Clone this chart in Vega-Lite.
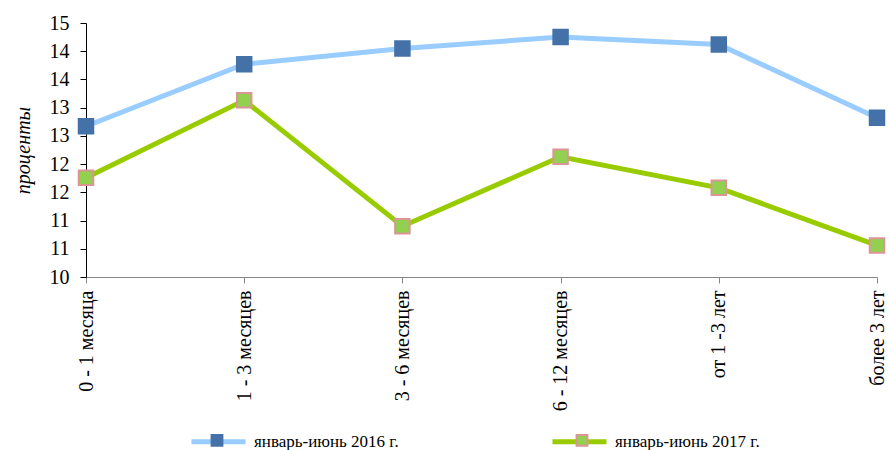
{
  "$schema": "https://vega.github.io/schema/vega-lite/v6.json",
  "width": 791,
  "height": 254,
  "autosize": {"type": "none"},
  "padding": {"left": 86, "top": 23, "right": 12, "bottom": 173},
  "background": "white",
  "config": {
    "view": {"stroke": null},
    "font": "Liberation Serif",
    "axis": {"grid": false}
  },
  "data": {
    "values": [
      {"cat": "0 - 1 месяца", "series": "январь-июнь 2016 г.", "value": 12.67},
      {"cat": "1 - 3 месяцев", "series": "январь-июнь 2016 г.", "value": 13.77},
      {"cat": "3 - 6 месяцев", "series": "январь-июнь 2016 г.", "value": 14.05},
      {"cat": "6 - 12 месяцев", "series": "январь-июнь 2016 г.", "value": 14.25},
      {"cat": "от 1 -3 лет", "series": "январь-июнь 2016 г.", "value": 14.12},
      {"cat": "более 3 лет", "series": "январь-июнь 2016 г.", "value": 12.82},
      {"cat": "0 - 1 месяца", "series": "январь-июнь 2017 г.", "value": 11.76},
      {"cat": "1 - 3 месяцев", "series": "январь-июнь 2017 г.", "value": 13.13},
      {"cat": "3 - 6 месяцев", "series": "январь-июнь 2017 г.", "value": 10.9},
      {"cat": "6 - 12 месяцев", "series": "январь-июнь 2017 г.", "value": 12.13},
      {"cat": "от 1 -3 лет", "series": "январь-июнь 2017 г.", "value": 11.58},
      {"cat": "более 3 лет", "series": "январь-июнь 2017 г.", "value": 10.56}
    ]
  },
  "encoding": {
    "x": {
      "field": "cat",
      "type": "ordinal",
      "sort": ["0 - 1 месяца", "1 - 3 месяцев", "3 - 6 месяцев", "6 - 12 месяцев", "от 1 -3 лет", "более 3 лет"],
      "scale": {"type": "point", "padding": 0},
      "axis": {
        "title": null,
        "labelAngle": -90,
        "labelFont": "Liberation Serif",
        "labelFontSize": 20,
        "labelColor": "black",
        "labelLimit": 300,
        "domainColor": "#868686",
        "tickColor": "#868686",
        "tickSize": 6,
        "labelPadding": 7
      }
    },
    "y": {
      "field": "value",
      "type": "quantitative",
      "scale": {"domain": [10, 14.5], "nice": false, "zero": false},
      "axis": {
        "values": [10, 10.5, 11, 11.5, 12, 12.5, 13, 13.5, 14, 14.5],
        "format": ".0f",
        "title": "проценты",
        "titleFont": "Liberation Serif",
        "titleFontStyle": "italic",
        "titleFontWeight": "normal",
        "titleFontSize": 20,
        "titleColor": "black",
        "titlePadding": 16,
        "labelFont": "Liberation Serif",
        "labelFontSize": 20,
        "labelColor": "black",
        "labelPadding": 11,
        "domainColor": "black",
        "tickColor": "black",
        "tickSize": 6
      }
    }
  },
  "layer": [
    {
      "mark": {"type": "line", "strokeWidth": 5},
      "encoding": {
        "color": {
          "field": "series",
          "type": "nominal",
          "scale": {"domain": ["январь-июнь 2016 г.", "январь-июнь 2017 г."], "range": ["#99CCFF", "#99CC00"]},
          "legend": {
            "orient": "none",
            "legendX": 103,
            "legendY": 389,
            "direction": "horizontal",
            "title": null,
            "symbolType": "M-1,0H1",
            "symbolSize": 2916,
            "symbolStrokeWidth": 5,
            "labelFont": "Liberation Serif",
            "labelFontSize": 17,
            "labelColor": "black",
            "labelLimit": 300,
            "columnPadding": 143,
            "labelOffset": 6,
            "padding": 0
          }
        }
      }
    },
    {
      "mark": {"type": "point", "shape": "square", "filled": true, "size": 210, "strokeWidth": 2, "opacity": 1},
      "encoding": {
        "fill": {
          "field": "series",
          "type": "nominal",
          "scale": {"range": ["#4472A8", "#92D050"]},
          "legend": {
            "orient": "none",
            "legendX": 103,
            "legendY": 389,
            "direction": "horizontal",
            "title": null,
            "symbolType": "M-0.2,-0.2H0.2V0.2H-0.2Z",
            "symbolSize": 2916,
            "symbolStrokeWidth": 2,
            "labelExpr": "''",
            "labelOffset": 0,
            "columnPadding": 309,
            "padding": 0
          }
        },
        "stroke": {
          "field": "series",
          "type": "nominal",
          "scale": {"range": ["#4472A8", "#D99694"]},
          "legend": {
            "orient": "none",
            "legendX": 103,
            "legendY": 389,
            "direction": "horizontal",
            "title": null,
            "symbolType": "M-0.2,-0.2H0.2V0.2H-0.2Z",
            "symbolSize": 2916,
            "symbolStrokeWidth": 2,
            "labelExpr": "''",
            "labelOffset": 0,
            "columnPadding": 309,
            "padding": 0
          }
        }
      }
    }
  ]
}
